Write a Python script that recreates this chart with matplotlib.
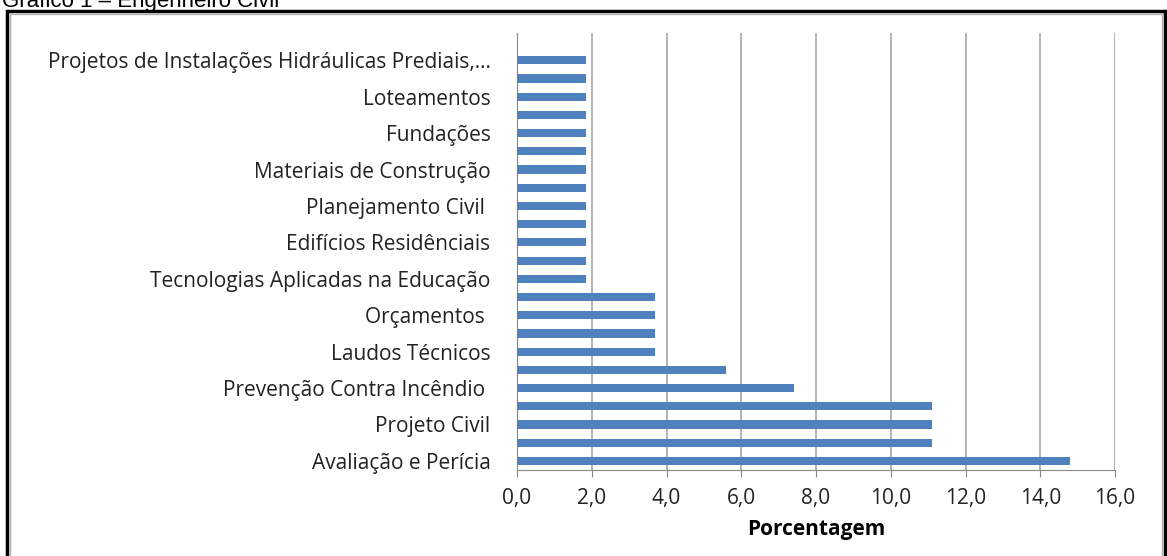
import numpy as np
import matplotlib.pyplot as plt
from matplotlib.patches import Rectangle

# categories from bottom to top (blank = label hidden in original)
categorias = [
    "Avaliação e Perícia", "", "Projeto Civil", "",
    "Prevenção Contra Incêndio ", "", "Laudos Técnicos", "",
    "Orçamentos ", "", "Tecnologias Aplicadas na Educação", "",
    "Edifícios Residênciais", "", "Planejamento Civil ", "",
    "Materiais de Construção", "", "Fundações", "",
    "Loteamentos", "", "Projetos de Instalações Hidráulicas Prediais,...",
]
porcentagem = [
    14.8, 11.1, 11.1, 11.1,
    7.4, 5.6, 3.7, 3.7,
    3.7, 3.7, 1.85, 1.85,
    1.85, 1.85, 1.85, 1.85,
    1.85, 1.85, 1.85, 1.85,
    1.85, 1.85, 1.85,
]
xticks = [0, 2, 4, 6, 8, 10, 12, 14, 16]
xticklabels = ["0,0", "2,0", "4,0", "6,0", "8,0", "10,0", "12,0", "14,0", "16,0"]

plt.rcParams['font.family'] = ['Open Sans', 'DejaVu Sans']

fig = plt.figure(figsize=(11.67, 5.56), dpi=100)
ax = fig.add_axes([517/1167, 86/556, (1115-517)/1167, (470-33)/556])

y = np.arange(len(categorias))
ax.barh(y, porcentagem, height=0.45, color="#4F81BD", zorder=3)

ax.set_xlim(0, 16)
ax.set_ylim(-0.5, len(categorias) + 0.5)
ax.set_xticks(xticks)
ax.set_xticklabels(xticklabels, fontsize=15, color="#222222")
ax.set_yticks(y)
ax.set_yticklabels(categorias, fontsize=15, color="#222222")
ax.tick_params(axis="y", length=0, pad=19)
ax.tick_params(axis="x", length=5, color="#888888", pad=8)
ax.grid(axis="x", color="#A6A6A6", linewidth=1.2, zorder=0)

for s in ["top", "right"]:
    ax.spines[s].set_visible(False)
for s in ["left", "bottom"]:
    ax.spines[s].set_color("#888888")

ax.set_xlabel("Porcentagem", fontsize=15, fontweight="bold", labelpad=7)

# outer frame and title (cut by the top edge in the original)
fig.patches.append(Rectangle((7/1167, -0.01), (1165-7)/1167, (545-0)/556 + 0.01,
                             transform=fig.transFigure, fill=False,
                             edgecolor="black", linewidth=2.5))
fig.patches.append(Rectangle((10/1167, -0.01), (1162-10)/1167, (542-0)/556 + 0.01,
                             transform=fig.transFigure, fill=False,
                             edgecolor="#B0B0B0", linewidth=1))
fig.text(2/1167, 1 - 1/556, "Gráfico 1 – Engenheiro Civil", fontsize=16,
         family="Liberation Sans", va="center", ha="left")

fig.savefig("out.png", dpi=100)
